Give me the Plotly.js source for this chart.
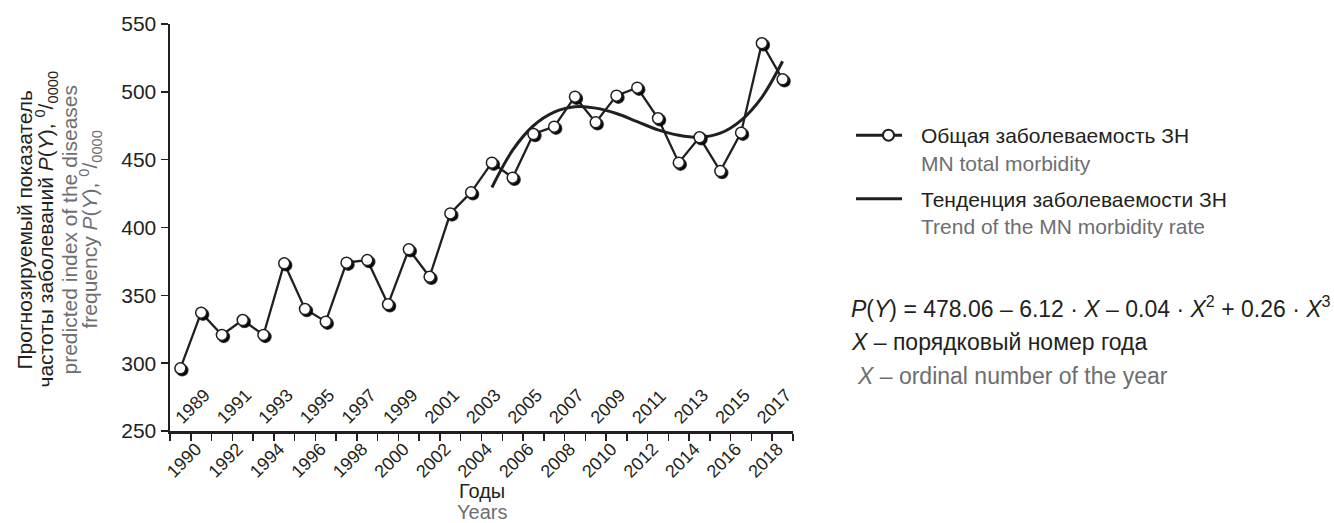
<!DOCTYPE html>
<html><head><meta charset="utf-8">
<script src="https://cdn.plot.ly/plotly-3.0.1.min.js"></script>
<style>html,body{margin:0;padding:0;background:#fff}#plot{width:1334px;height:523px}</style>
</head><body><div id="plot"></div>
<script>
// ---- data ----
const years = ['1989','1990','1991','1992','1993','1994','1995','1996','1997','1998',
  '1999','2000','2001','2002','2003','2004','2005','2006','2007','2008',
  '2009','2010','2011','2012','2013','2014','2015','2016','2017','2018'];
const morbidity = [296.2, 337.2, 320.8, 331.8, 320.8, 373.6, 339.9, 330.6, 374.1, 376.0,
  343.4, 383.9, 363.7, 410.4, 425.9, 447.8, 436.7, 468.9, 474.3, 496.4,
  477.5, 497.2, 503.1, 480.5, 447.8, 466.5, 441.6, 469.9, 535.8, 509.2];
const trendYears = ['2004','2005','2006','2007','2008','2009','2010','2011','2012','2013',
  '2014','2015','2016','2017','2018'];
const trendValues = [429.5, 457.0, 475.0, 485.0, 489.0, 488.0, 484.0, 478.0, 472.0, 468.0,
  466.5, 469.5, 479.0, 496.0, 522.5];
const yTicks = [250, 300, 350, 400, 450, 500, 550];
const lowerLabels = years.map(y => (+y % 2 === 0) ? y : '');   // below the axis
const upperYears = years.filter(y => +y % 2 === 1);            // above the axis

const DARK = '#231f20', GRAY = '#6d6e71';
const FONT = 'Liberation Sans, Arial, Helvetica, sans-serif';

const traces = [
  {type:'scatter', mode:'lines', x:trendYears, y:trendValues, xaxis:'x', yaxis:'y',
   line:{color:DARK, width:3, shape:'spline'},
   name:'Тенденция заболеваемости ЗН<br><span style="color:'+GRAY+'">Trend of the MN morbidity rate</span>',
   legendrank:2, legendgroup:'b', hoverinfo:'skip'},
  {type:'scatter', mode:'lines+markers', x:years, y:morbidity, xaxis:'x2', yaxis:'y',
   line:{color:DARK, width:2.3},
   marker:{size:11, color:'#ffffff', line:{color:DARK, width:1.5}},
   name:'Общая заболеваемость ЗН<br><span style="color:'+GRAY+'">MN total morbidity</span>',
   legendrank:1, legendgroup:'a'}
];

const annotations = [];
// y-axis title lines
const yTitle = [
  ['Прогнозируемый показатель', DARK, -146],
  ['частоты заболеваний <i>P</i>(<i>Y</i>), <sup>0</sup>/<sub>0000</sub>', DARK, -124],
  ['predicted index of the diseases', GRAY, -101],
  ['frequency <i>P</i>(<i>Y</i>), <sup>0</sup>/<sub>0000</sub>', GRAY, -80]
];
yTitle.forEach(([t, c, dx]) => annotations.push({
  xref:'paper', yref:'paper', x:0, y:0.5, xshift:dx, yshift:-2, text:t, textangle:-90,
  showarrow:false, xanchor:'center', yanchor:'middle', font:{family:FONT, size:21, color:c}
}));
// x-axis title lines
annotations.push({xref:'paper', yref:'paper', x:0.5, y:0, yshift:-60, text:'Годы', showarrow:false,
  xanchor:'center', yanchor:'middle', font:{family:FONT, size:20, color:DARK}});
annotations.push({xref:'paper', yref:'paper', x:0.5, y:0, yshift:-81, text:'Years', showarrow:false,
  xanchor:'center', yanchor:'middle', font:{family:FONT, size:20, color:GRAY}});
// formula block
const formula = [
  ['<i>P</i>(<i>Y</i>) = 478.06 – 6.12 · <i>X</i> – 0.04 · <i>X</i><sup>2</sup> + 0.26 · <i>X</i><sup>3</sup>', DARK, 0, 307],
  ['<i>X</i> – порядковый номер года', DARK, 0, 342],
  ['<i>X</i> – ordinal number of the year', GRAY, 6, 376]
];
formula.forEach(([t, c, dx, py]) => annotations.push({
  xref:'paper', yref:'paper', x:(849-170)/623, xshift:dx, y:(431-py)/407, text:t,
  showarrow:false, xanchor:'left', yanchor:'middle', font:{family:FONT, size:23, color:c}
}));

const layout = {
  width:1334, height:523,
  margin:{l:170, r:541, t:24, b:92, pad:0},
  paper_bgcolor:'#fff', plot_bgcolor:'#fff',
  font:{family:FONT, color:DARK},
  showlegend:true,
  legend:{x:(856-170)/623, y:(431-115)/407, xanchor:'left', yanchor:'top',
    font:{family:FONT, size:21, color:DARK}, valign:'top', tracegroupgap:6,
    bgcolor:'rgba(0,0,0,0)', itemwidth:55, traceorder:'grouped'},
  xaxis:{type:'category', categoryorder:'array', categoryarray:years,
    range:[-0.5, years.length-0.5], tickmode:'array', tickvals:years, ticktext:lowerLabels,
    tickson:'boundaries', ticks:'outside', ticklen:7, tickwidth:1.5, tickcolor:DARK,
    tickangle:-45, tickfont:{family:FONT, size:18, color:DARK},
    ticklabelshift:-5, ticklabelstandoff:-2,
    showline:true, linecolor:DARK, linewidth:2.5, showgrid:false, zeroline:false, fixedrange:true},
  xaxis2:{type:'category', categoryorder:'array', categoryarray:years, overlaying:'x',
    anchor:'free', position:0, side:'top',
    range:[-0.5, years.length-0.5], tickmode:'array', tickvals:upperYears, ticktext:upperYears,
    ticks:'', tickangle:-45, tickfont:{family:FONT, size:18, color:DARK},
    ticklabelshift:-4, ticklabelstandoff:0,
    showline:false, showgrid:false, zeroline:false, fixedrange:true, automargin:false},
  yaxis:{range:[250, 550], tickmode:'array', tickvals:yTicks, ticks:'outside', ticklen:7,
    tickwidth:1.5, tickcolor:DARK, tickfont:{family:FONT, size:21, color:DARK},
    showline:true, linecolor:DARK, linewidth:2.5, showgrid:false, zeroline:false, fixedrange:true},
  annotations:annotations
};

Plotly.newPlot('plot', traces, layout, {displayModeBar:false, staticPlot:true}).then(gd => {
  const svg = gd.querySelector('.main-svg');
  const defs = svg.querySelector('defs');
  const NS = 'http://www.w3.org/2000/svg';
  const f = document.createElementNS(NS, 'filter');
  f.setAttribute('id', 'ptshadow');
  f.setAttribute('x', '-50%'); f.setAttribute('y', '-50%');
  f.setAttribute('width', '200%'); f.setAttribute('height', '200%');
  const ds = document.createElementNS(NS, 'feDropShadow');
  ds.setAttribute('dx', '1.8'); ds.setAttribute('dy', '1.8');
  ds.setAttribute('stdDeviation', '0.5');
  ds.setAttribute('flood-color', '#000'); ds.setAttribute('flood-opacity', '1');
  f.appendChild(ds); defs.appendChild(f);
  gd.querySelectorAll('.scatterlayer .trace .points path')
    .forEach(p => p.setAttribute('filter', 'url(#ptshadow)'));
  // longer, bolder legend line symbols as in the reference
  gd.querySelectorAll('.legend .legendlines path').forEach(p => {
    p.setAttribute('d', 'M-3,0h49');
    p.style.strokeWidth = '3px';
  });
  gd.querySelectorAll('.legend .legendpoints path').forEach(p => {
    p.style.strokeWidth = '2px';
  });
});
</script></body></html>
